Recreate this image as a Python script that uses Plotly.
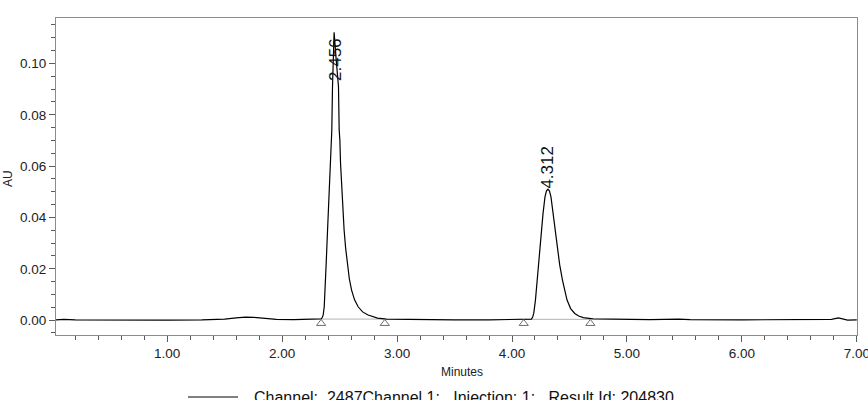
import plotly.graph_objects as go

# Chromatogram trace (minutes, AU)
time_min = [0.032, 0.10, 0.20, 0.50, 1.00, 1.30, 1.50, 1.60, 1.68, 1.75, 1.85, 1.95, 2.10, 2.25, 2.30,
            2.339, 2.350, 2.357, 2.366, 2.375, 2.383, 2.395, 2.406, 2.421, 2.432, 2.438, 2.445, 2.452,
            2.470, 2.490, 2.496, 2.502, 2.508, 2.522, 2.539, 2.552, 2.566, 2.584, 2.604, 2.630, 2.661,
            2.700, 2.748, 2.83, 2.909,
            3.20, 3.50, 3.80, 4.00, 4.10, 4.169, 4.180, 4.189, 4.204, 4.218, 4.241, 4.270, 4.287, 4.300,
            4.313, 4.326, 4.339, 4.357, 4.375, 4.395, 4.415, 4.439, 4.479, 4.510, 4.546, 4.58, 4.62,
            4.705, 4.90, 5.20, 5.45,
            5.55, 6.00, 6.50, 6.70, 6.78, 6.84, 6.88, 6.92, 7.00]
absorbance = [0.0001, 0.0003, 0.0001, 0.0, 0.0, 0.0001, 0.0004, 0.0009, 0.0012, 0.0011, 0.0006, 0.0003,
              0.0002, 0.0003, 0.0004,
              0.0005, 0.0011, 0.0020, 0.0052, 0.0117, 0.0221, 0.0351, 0.0481, 0.0611, 0.0741, 0.0910,
              0.1030, 0.1121,
              0.1015, 0.0910, 0.0741, 0.0702, 0.0611, 0.0481, 0.0351, 0.0282, 0.0221, 0.0162, 0.0117,
              0.0079, 0.0052,
              0.0032, 0.0020, 0.0008, 0.0004,
              0.0002, 0.0001, 0.0001, 0.0002, 0.0003, 0.0004, 0.0012, 0.0026, 0.0078, 0.0156, 0.0286,
              0.0416, 0.0480, 0.0504,
              0.0510, 0.0503, 0.0480, 0.0416, 0.0348, 0.0286, 0.0215, 0.0156, 0.0078, 0.0045, 0.0026,
              0.0016, 0.0010,
              0.0005, 0.0003, 0.0002, 0.0004,
              0.0002, 0.0001, 0.0001, 0.0002, 0.0003, 0.0009, 0.0004, 0.0000, 0.0001]

# Peak labels (retention times)
peak_labels = ["2.456", "4.312"]
peak_label_x = [2.458, 4.310]
peak_label_y = [0.0925, 0.0505]

# Integration baseline start/end markers
baseline_start = [2.339, 4.102]
baseline_end = [2.893, 4.682]
baseline_level = [0.0004, 0.0003]
marker_level = -0.0013

x_ticks = [1, 2, 3, 4, 5, 6, 7]
y_ticks = [0.00, 0.02, 0.04, 0.06, 0.08, 0.10]
legend_text = "Channel:  2487Channel 1:   Injection: 1:   Result Id: 204830"

FONT = "Liberation Sans, Arial, sans-serif"

fig = go.Figure()

# integration baselines
for s, e, b in zip(baseline_start, baseline_end, baseline_level):
    fig.add_trace(go.Scatter(x=[s, e], y=[b, b], mode="lines",
                             line=dict(color="#b4b4b4", width=1), hoverinfo="skip",
                             showlegend=False))

fig.add_trace(go.Scatter(x=time_min, y=absorbance, mode="lines",
                         line=dict(color="#000000", width=1.2, shape="linear"),
                         showlegend=False))

tri_x = []
for s, e in zip(baseline_start, baseline_end):
    tri_x += [s, e]
fig.add_trace(go.Scatter(x=tri_x, y=[marker_level] * len(tri_x), mode="markers",
                         marker=dict(symbol="triangle-up-open", size=8,
                                     color="#6e6e6e", line=dict(width=1)),
                         showlegend=False))

for lbl, lx, ly in zip(peak_labels, peak_label_x, peak_label_y):
    fig.add_annotation(x=lx, y=ly, text=lbl, textangle=-90, showarrow=False,
                       xanchor="center", yanchor="bottom",
                       font=dict(family=FONT, size=17, color="#111111"))

axis_common = dict(showline=True, linecolor="#8c8c8c", linewidth=1, mirror=True,
                   ticks="outside", tickcolor="#5a5a5a", ticklen=6, tickwidth=1,
                   showgrid=False, zeroline=False, ticklabeloverflow="allow",
                   automargin=False,
                   tickfont=dict(family=FONT, size=13.5, color="#222222"))

fig.update_xaxes(range=[0.032, 7.002], tickvals=x_ticks, tickformat=".2f",
                 minor=dict(dtick=0.2, ticks="outside", ticklen=4, tickcolor="#5a5a5a"),
                 **axis_common)
fig.update_yaxes(range=[-0.0058, 0.1177], tickvals=y_ticks, tickformat=".2f",
                 minor=dict(dtick=0.005, tick0=0, ticks="outside", ticklen=4, tickcolor="#5a5a5a"),
                 **axis_common)

fig.add_annotation(x=0.507, y=-0.117, xref="paper", yref="paper", text="Minutes",
                   showarrow=False, xanchor="center", yanchor="middle",
                   font=dict(family=FONT, size=12, color="#222222"))
fig.add_annotation(x=-0.060, y=0.495, xref="paper", yref="paper", text="AU",
                   textangle=-90, showarrow=False, xanchor="center", yanchor="middle",
                   font=dict(family=FONT, size=12, color="#222222"))

# legend (line sample + text) at the bottom
fig.add_shape(type="line", xref="paper", yref="paper",
              x0=(188 - 56) / 801, x1=(238 - 56) / 801,
              y0=(335 - 397) / 317, y1=(335 - 397) / 317,
              line=dict(color="#000000", width=1))
fig.add_annotation(x=(252 - 56) / 801, y=(335 - 397) / 317, xref="paper", yref="paper",
                   text=legend_text, showarrow=False, xanchor="left", yanchor="middle",
                   font=dict(family=FONT, size=16, color="#111111"))

fig.update_layout(width=868, height=400, margin=dict(l=56, r=11, t=18, b=65),
                  plot_bgcolor="white", paper_bgcolor="white", showlegend=False)

fig.write_html("out.html")
